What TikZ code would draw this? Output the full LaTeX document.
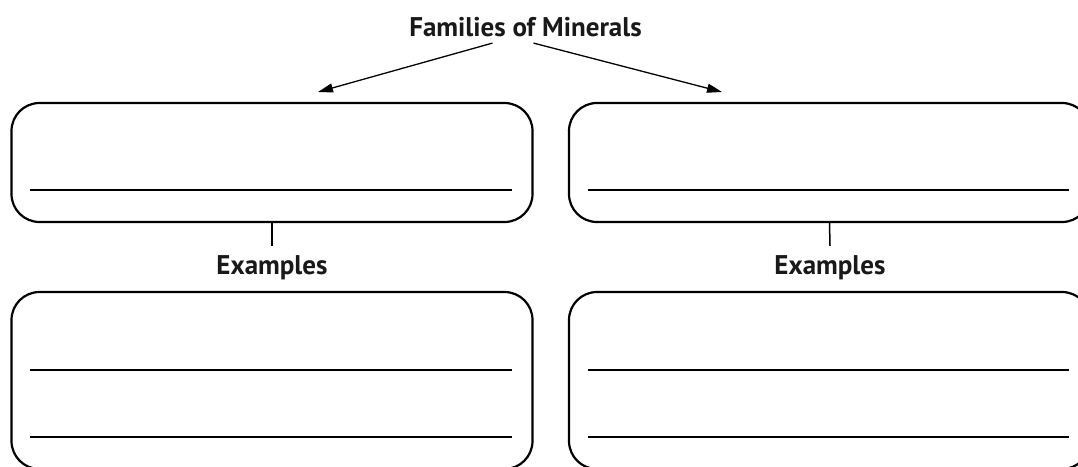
\documentclass[tikz,border=0pt]{standalone}
\usepackage{fontspec}
\setmainfont{PT Sans}
\usetikzlibrary{arrows.meta}

\begin{document}
\begin{tikzpicture}[x=1pt,y=-1pt,
	heading/.style={font=\bfseries\fontsize{27}{32}\selectfont, text=black!90},
	answerbox/.style={draw, line width=2.2pt, rounded corners=28pt, minimum width=521pt, inner sep=0pt},
	writeline/.style={line width=1.8pt},
	pointer/.style={line width=1.3pt, -{Triangle[length=15pt,width=9pt]}}]
	\useasboundingbox (0,0) rectangle (1078,466);

	\node[heading, anchor=base, inner sep=6pt] (title) at (525.5,36.5) {Families of Minerals};
	\coordinate (lend) at (318,92);
	\coordinate (rend) at (722,92);
	\draw[pointer] ([xshift=-33pt]title.south) -- (lend);
	\draw[pointer] ([xshift=8pt]title.south) -- (rend);

	% upper boxes
	\node[answerbox, minimum height=119pt] (ltop) at (272,162.5) {};
	\node[answerbox, minimum height=119pt] (rtop) at (829.5,162.5) {};
	\draw[writeline] ([shift={(20,-33)}]ltop.south west) -- ([shift={(-22,-33)}]ltop.south east);
	\draw[writeline] ([shift={(20,-33)}]rtop.south west) -- ([shift={(-22,-33)}]rtop.south east);

	\node[heading, anchor=base, inner ysep=9pt] (lex) at (272,274) {Examples};
	\node[heading, anchor=base, inner ysep=9pt] (rex) at (830,274) {Examples};
	\draw[line width=1.5pt] (ltop.south) -- (lex.north);
	\draw[line width=1.5pt] (rtop.south) -- (rex.north);

	% lower boxes
	\node[answerbox, minimum height=177pt] (lbot) at (272,380.5) {};
	\node[answerbox, minimum height=177pt] (rbot) at (829.5,380.5) {};
	\foreach \b in {lbot,rbot} {
		\draw[writeline] ([shift={(20,-100)}]\b.south west) -- ([shift={(-22,-100)}]\b.south east);
		\draw[writeline] ([shift={(20,-33)}]\b.south west) -- ([shift={(-22,-33)}]\b.south east);
	}
\end{tikzpicture}
\end{document}
